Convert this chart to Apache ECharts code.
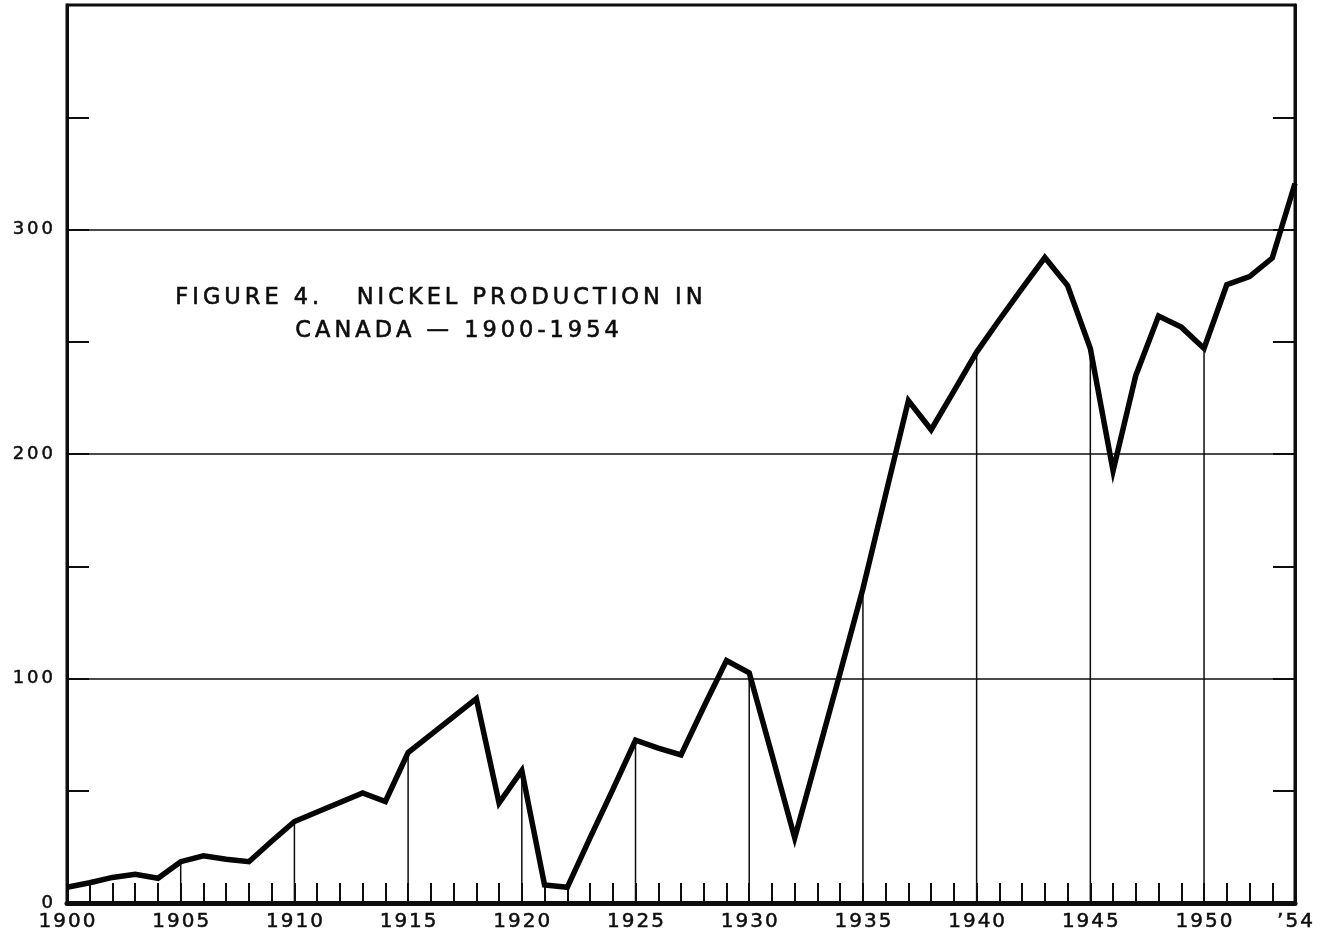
<!DOCTYPE html>
<html>
<head>
<meta charset="utf-8">
<style>
  html, body { margin: 0; padding: 0; background: #fff; }
  #chart { width: 1320px; height: 938px; }
</style>
<script src="https://cdn.jsdelivr.net/npm/echarts@6/dist/echarts.min.js"></script>
</head>
<body>
<div id="chart"></div>
<script>
// nickel production, millions of pounds
const years = [
  1900, 1901, 1902, 1903, 1904, 1905, 1906, 1907, 1908, 1909,
  1910, 1911, 1912, 1913, 1914, 1915, 1916, 1917, 1918, 1919,
  1920, 1921, 1922, 1923, 1924, 1925, 1926, 1927, 1928, 1929,
  1930, 1931, 1932, 1933, 1934, 1935, 1936, 1937, 1938, 1939,
  1940, 1941, 1942, 1943, 1944, 1945, 1946, 1947, 1948, 1949,
  1950, 1951, 1952, 1953, 1954
]
const nickel = [
  7, 9, 11.4, 12.8, 11, 18.4, 21, 19.5, 18.4, 27.5,
  36.3, 40.5, 44.8, 49, 45.2, 67, 75, 83, 91, 44.5,
  59, 8, 7, 29, 50.5, 72.5, 69, 66, 87.3, 108,
  102.5, 66, 29, 65.7, 102.6, 140, 182, 223.8, 210.8, 228,
  245.4, 259.8, 273.8, 287.5, 275, 247, 192.5, 235, 261.5, 256.5,
  247, 275.4, 279, 287.3, 320.5
]
// years that get a drop line from the axis up to the curve
const dropYears = [1905, 1910, 1915, 1920, 1925, 1930, 1935, 1940, 1945, 1950]
const yLabels = ['0', '100', '200', '300']
const titleLines = ['FIGURE 4.   NICKEL PRODUCTION IN', 'CANADA — 1900-1954']

const ink = '#0d0d0d'
const font = 'DejaVu Sans'

// lettering on the original is widely spaced, so every character gets its own rich box
function spaced (str, key) {
  return str.split('').map(c => '{' + key + '|' + c + '}').join('')
}

const chart = echarts.init(document.getElementById('chart'))

const linePoints = years.map((y, i) => [y, nickel[i]])
const dropPoints = dropYears.map(y => [y, nickel[years.indexOf(y)]])

const titleRich = {
  t: {
    fontFamily: font, fontSize: 22.5, fill: ink, padding: [0, 2, 0, 2],
    stroke: ink, lineWidth: 0.6
  }
}

chart.setOption({
  backgroundColor: '#fff',
  animation: false,
  grid: {
    left: 67, right: 25, top: 5, bottom: 35,
    show: true, borderColor: ink, borderWidth: 3
  },
  graphic: [
    {
      type: 'text', left: 175, top: 286,
      style: { text: spaced(titleLines[0], 't'), rich: titleRich, fill: ink }
    },
    {
      type: 'text', left: 295, top: 319,
      style: { text: spaced(titleLines[1], 't'), rich: titleRich, fill: ink }
    }
  ],
  xAxis: {
    type: 'value', min: 1900, max: 1954, interval: 1,
    axisLine: { show: true, lineStyle: { color: ink, width: 5 } },
    axisTick: { show: true, inside: true, length: 20, lineStyle: { color: ink, width: 2 } },
    axisLabel: {
      margin: 9,
      showMinLabel: true, showMaxLabel: true,
      formatter: v => v === 1954 ? spaced('’54', 'x') : (v % 5 === 0 ? spaced(String(v), 'x') : ''),
      rich: {
        x: {
          fontFamily: font, fontSize: 20, color: ink, padding: [0, 1, 0, 1],
          textBorderColor: ink, textBorderWidth: 0.5
        }
      }
    },
    splitLine: { show: false }
  },
  yAxis: [
    {
      type: 'value', min: 0, max: 400, interval: 50, position: 'left',
      axisLine: { show: true, lineStyle: { color: ink, width: 3 } },
      axisTick: { show: true, inside: true, length: 22, lineStyle: { color: ink, width: 2 } },
      axisLabel: { show: false },
      splitLine: { show: false }
    },
    {
      type: 'value', min: 0, max: 400, interval: 100, position: 'left',
      axisLine: { show: false },
      axisTick: { show: false },
      axisLabel: {
        margin: 14,
        formatter: (v, i) => yLabels[i] ? spaced(yLabels[i], 'y') : '',
        rich: {
          y: {
            fontFamily: font, fontSize: 18, color: ink, padding: [0, 0, 0, 3],
            textBorderColor: ink, textBorderWidth: 0.5
          }
        }
      },
      splitLine: { show: true, lineStyle: { color: ink, width: 1.5 } }
    },
    {
      type: 'value', min: 0, max: 400, interval: 50, position: 'right',
      axisLine: { show: true, lineStyle: { color: ink, width: 3 } },
      axisTick: { show: true, inside: true, length: 22, lineStyle: { color: ink, width: 2 } },
      axisLabel: { show: false },
      splitLine: { show: false }
    }
  ],
  series: [
    {
      type: 'bar',
      data: dropPoints,
      barWidth: 1.5,
      itemStyle: { color: ink },
      silent: true,
      z: 2
    },
    {
      type: 'line',
      data: linePoints,
      symbol: 'none',
      lineStyle: { color: '#050505', width: 5.5, join: 'miter', miterLimit: 6 },
      silent: true,
      z: 3
    }
  ]
})
</script>
</body>
</html>
